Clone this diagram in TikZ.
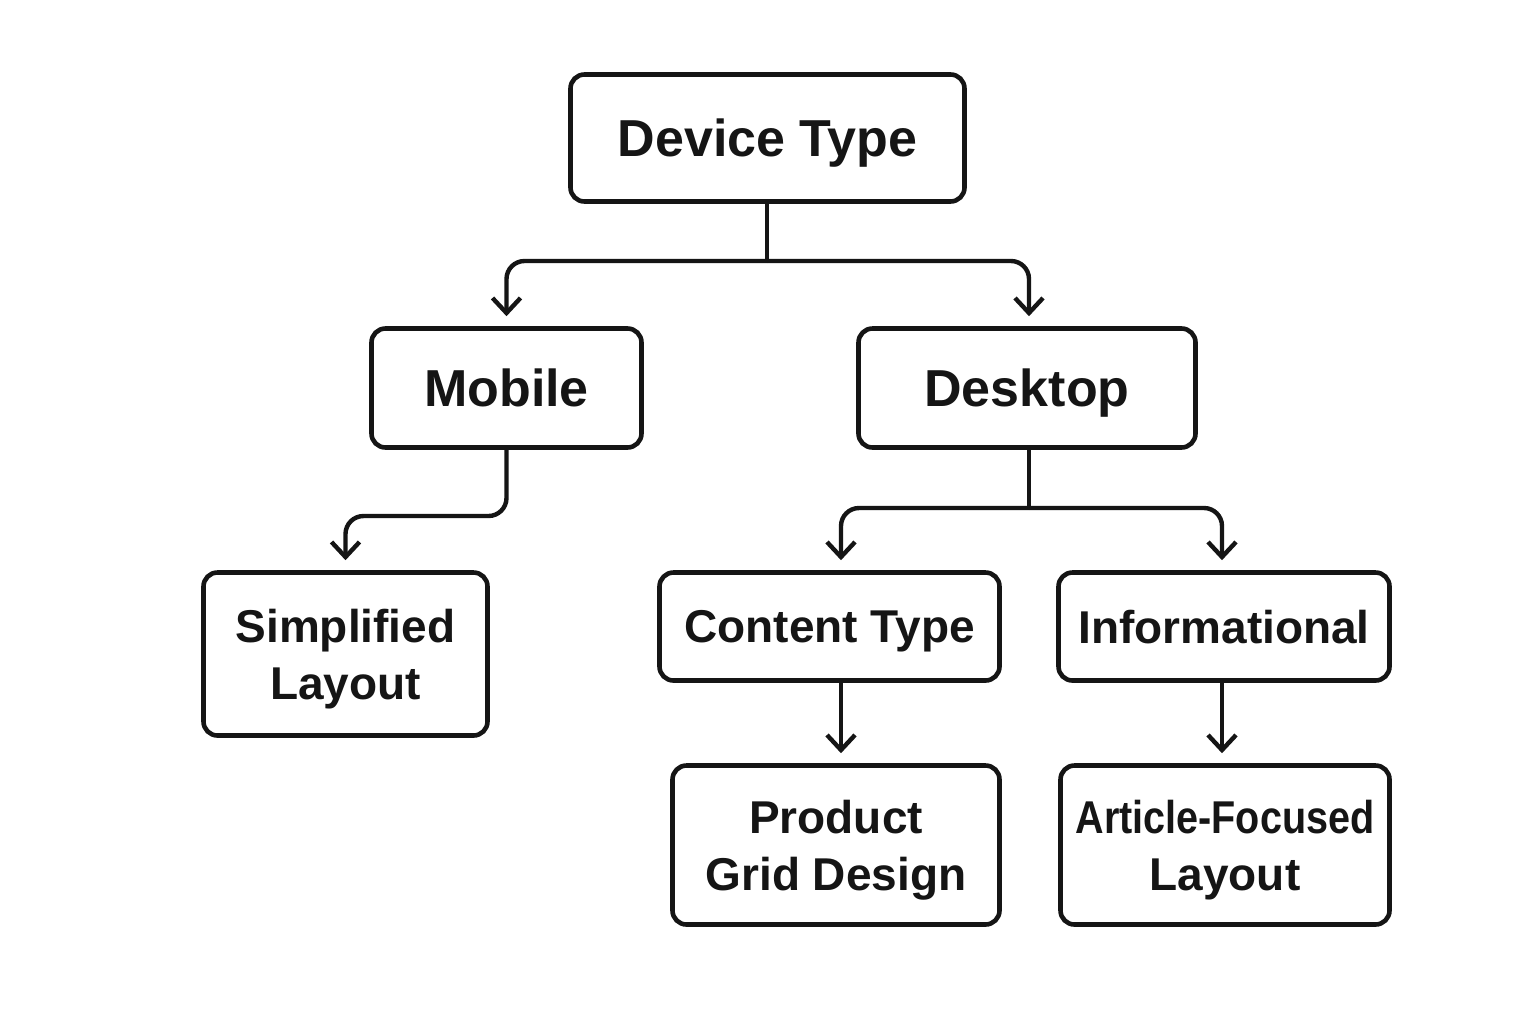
\documentclass[tikz,border=0pt]{standalone}
\usepackage{fontspec}
\setmainfont{Liberation Sans}
\usetikzlibrary{arrows.meta,calc}
\definecolor{ink}{HTML}{151515}
\begin{document}
\begin{tikzpicture}[x=0.5pt,y=-0.5pt,
  box/.style={draw=ink,text=ink,line width=2.3pt,rounded corners=7pt,align=center,inner sep=0pt,
    text depth=0pt,font=\bfseries\fontsize{23}{28.5}\selectfont},
  big/.style={font=\bfseries\fontsize{26}{31}\selectfont},
  conn/.style={draw=ink,line width=2.2pt,rounded corners=9pt},
  arr/.style={conn,-{Straight Barb[length=7.5pt,width=14pt,line width=2.2pt]},shorten >=5pt}]
\useasboundingbox[fill=white] (0,0) rectangle (1536,1024);
\node[box,big,minimum width=197pt,minimum height=63.5pt] (dt) at (767.5,138) {Device Type};
\node[box,big,minimum width=135pt,minimum height=59.5pt] (mob) at (506.5,388) {Mobile};
\node[box,big,minimum width=168.5pt,minimum height=59.5pt] (desk) at (1027,388) {Desktop};
\node[box,minimum width=142pt,minimum height=81.5pt] (simp) at (345.5,654) {Simplified\\Layout};
\node[box,minimum width=170pt,minimum height=54pt] (ct) at (829.5,626.5) {Content Type};
\node[box,minimum width=165.5pt,minimum height=54pt] (inf) at (1224,626.5) {Informational};
\node[box,minimum width=163.5pt,minimum height=79.5pt] (pgd) at (836,845) {Product\\Grid Design};
\node[box,minimum width=164.5pt,minimum height=79.5pt] (afl) at (1225,845) {\scalebox{0.86}[1]{Article-Focused}\\Layout};
% connectors
\coordinate (j1) at (767,261);
\coordinate (j2) at (1029,508);
\coordinate (m1) at (430,516);
\draw[conn] (dt.south -| j1) -- (j1);
\draw[arr] (j1) -| (mob.north);
\draw[arr] (j1) -| ([xshift=1pt]desk.north);
\draw[arr] (mob.south) |- (m1) -| (simp.north);
\draw[conn] (desk.south -| j2) -- (j2);
\draw[arr] (j2) -| ([xshift=5.75pt]ct.north);
\draw[arr] (j2) -| ([xshift=-1pt]inf.north);
\draw[arr] ([xshift=5.75pt]ct.south) -- ([xshift=2.5pt]pgd.north);
\draw[arr] ([xshift=-1pt]inf.south) -- ([xshift=-1.5pt]afl.north);
\end{tikzpicture}
\end{document}
